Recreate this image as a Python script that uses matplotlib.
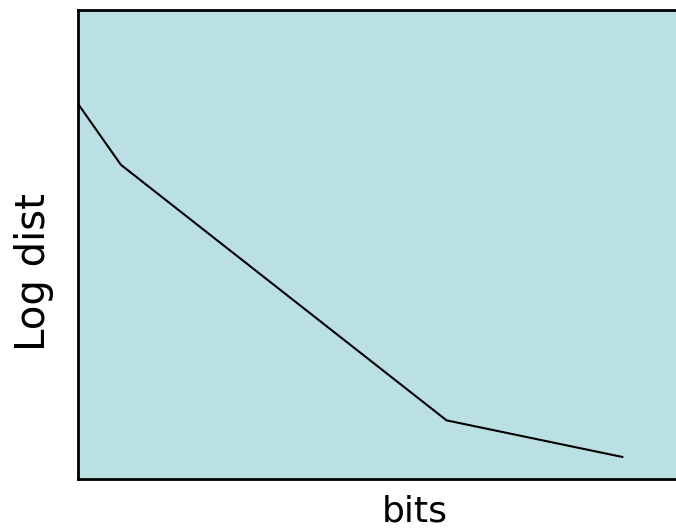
import matplotlib.pyplot as plt

# data
bits = [0.0, 1.0, 8.6, 12.7]
log_dist = [8.0, 6.7, 1.25, 0.47]


def main():
    fig = plt.figure(figsize=(6.76, 5.29), dpi=100)
    # axes run past the right edge of the picture, as in the reference
    ax = fig.add_axes([78 / 676, 50 / 529, 674 / 676, 469 / 529])
    ax.set_facecolor("#BBE0E3")
    ax.plot(bits, log_dist, color="black", linewidth=1.5)
    ax.set_xlim(0, 674 / 42.86)
    ax.set_ylim(0, 10)
    ax.set_xticks([])
    ax.set_yticks([])
    for side in ["left", "top", "bottom", "right"]:
        ax.spines[side].set_linewidth(2)

    fig.text(415 / 676, 1 - 511 / 529, "bits", fontsize=26,
             ha="center", va="center")
    fig.text(34 / 676, 1 - 272 / 529, "Log dist", fontsize=29,
             rotation=90, ha="center", va="center")

    fig.savefig("out.png", dpi=100)
    plt.close(fig)


if __name__ == "__main__":
    main()
